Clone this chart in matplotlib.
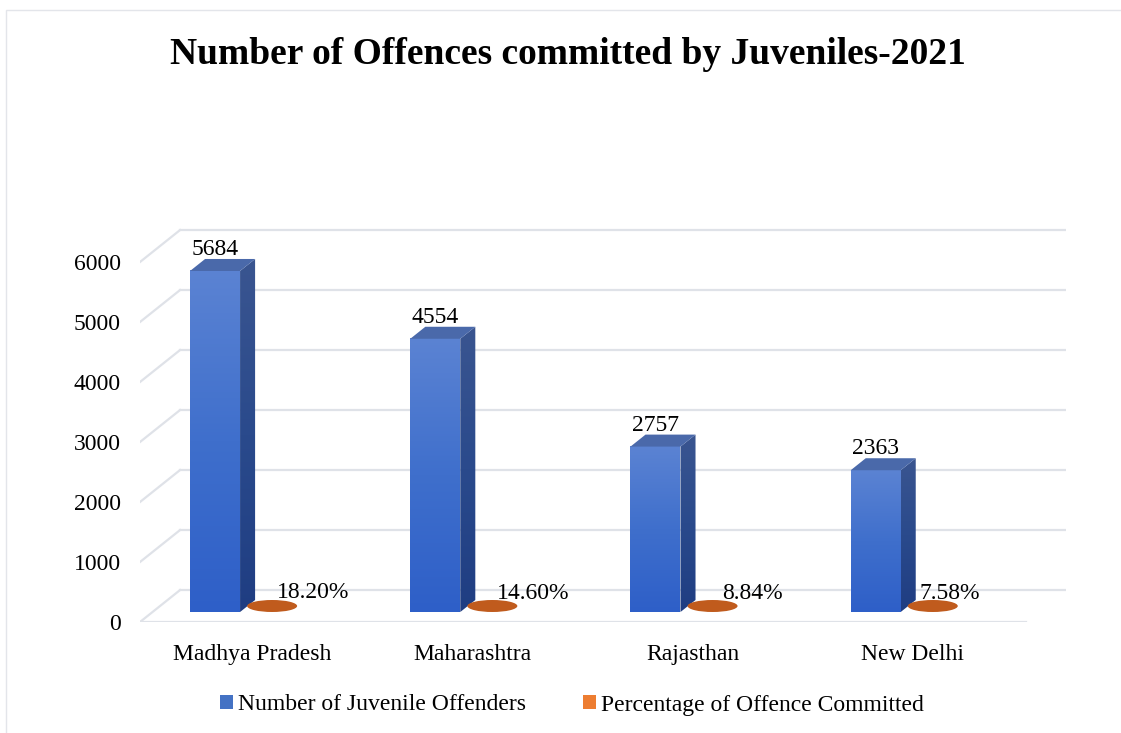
import numpy as np
import matplotlib
matplotlib.use("Agg")
import matplotlib.pyplot as plt
from matplotlib.patches import Polygon, Ellipse, Patch, Rectangle
from matplotlib.colors import LinearSegmentedColormap

plt.rcParams['font.family'] = ['Liberation Serif', 'DejaVu Serif']

states = ['Madhya Pradesh', 'Maharashtra', 'Rajasthan', 'New Delhi']
offenders = [5684, 4554, 2757, 2363]
offence_pct = [18.20, 14.60, 8.84, 7.58]
y_ticks = [0, 1000, 2000, 3000, 4000, 5000, 6000]

# fake 3d: depth offset of the whole box, in data units
DX = 0.182
DY = 533
T_FRONT, T_BACK = 0.3125, 0.6875
BAR_W = 0.227
BAR_SHIFT = -0.225
X_LEFT, X_RIGHT = -0.509, 3.514

fig = plt.figure(figsize=(11.21, 7.33), dpi=100)
ax = fig.add_axes([140 / 1121, 111 / 733, 926 / 1121, 396 / 733])

# outer chart border
fig.patches.append(Rectangle((6 / 1121, -0.01), 1.0, (733 - 10) / 733 + 0.01,
                             transform=fig.transFigure, fill=False,
                             edgecolor='#e3e5ea', lw=1.0))

grid_col = '#dfe2e8'
for v in y_ticks:
    ax.plot([X_LEFT + DX, X_RIGHT + DX], [v + DY, v + DY], color=grid_col, lw=1.6, zorder=1)
    ax.plot([X_LEFT, X_LEFT + DX], [v, v + DY], color=grid_col, lw=1.6, zorder=1)
ax.plot([X_LEFT, X_RIGHT], [0, 0], color=grid_col, lw=1.6, zorder=1)

front_cmap = LinearSegmentedColormap.from_list('front', ['#2e5fc8', '#3f6fcc', '#5b83d3'])
side_cmap = LinearSegmentedColormap.from_list('side', ['#1f3d82', '#2a4a8c', '#3a5590'])
grad = np.linspace(0, 1, 256).reshape(-1, 1)

ddx = (T_BACK - T_FRONT) * DX
ddy = (T_BACK - T_FRONT) * DY
for i, (n, pct) in enumerate(zip(offenders, offence_pct)):
    xl = i + BAR_SHIFT - BAR_W / 2 + T_FRONT * DX
    xr = xl + BAR_W
    y0 = T_FRONT * DY
    top = y0 + n

    # front face with vertical gradient
    ax.imshow(grad, extent=(xl, xr, y0, top), origin='lower', cmap=front_cmap,
              aspect='auto', zorder=3, interpolation='bilinear')

    # right side face
    side = Polygon([(xr, y0), (xr + ddx, y0 + ddy), (xr + ddx, top + ddy), (xr, top)],
                   closed=True, facecolor='none', edgecolor='none')
    ax.add_patch(side)
    im = ax.imshow(grad, extent=(xr, xr + ddx, y0, top + ddy), origin='lower',
                   cmap=side_cmap, aspect='auto', zorder=3, interpolation='bilinear')
    im.set_clip_path(side)

    # top face
    ax.add_patch(Polygon([(xl, top), (xr, top), (xr + ddx, top + ddy), (xl + ddx, top + ddy)],
                         closed=True, facecolor='#4a69aa', edgecolor='none', zorder=4))

    ax.text((xl + xr) / 2, top + ddy - 20, f'{n}', ha='center', va='bottom',
            fontsize=17, zorder=6)

    # percentage series: nearly flat cylinder on the floor
    cx = i + 0.5 * DX
    cy = 0.5 * DY + pct / 100
    ax.add_patch(Ellipse((cx, cy), BAR_W, ddy, facecolor='#c05b1d', edgecolor='none', zorder=5))

pct_dx = [41, 41, 40, 17]
for i, pct in enumerate(offence_pct):
    ax.annotate(f'{pct:.2f}%', xy=(i + 0.5 * DX, 0.5 * DY + pct / 100),
                xytext=(pct_dx[i] * 0.72, 13 * 0.72), textcoords='offset points',
                ha='center', va='center', fontsize=17, zorder=6)

ax.set_xlim(X_LEFT, X_RIGHT + DX)
ax.set_ylim(0, 6600)
ax.set_yticks(y_ticks)
ax.set_yticklabels([str(v) for v in y_ticks], fontsize=17)
ax.set_xticks(range(len(states)))
ax.set_xticklabels(states, fontsize=17)
ax.tick_params(axis='y', length=0, pad=14)
ax.tick_params(axis='x', length=0, pad=15.5)
for s in ax.spines.values():
    s.set_visible(False)
ax.set_facecolor('none')

fig.text(568 / 1121, (733 - 54) / 733, 'Number of Offences committed by Juveniles-2021',
         ha='center', va='center', fontsize=27, fontweight='bold')

handles = [Patch(facecolor='#4472c4', label='Number of Juvenile Offenders'),
           Patch(facecolor='#ed7d31', label='Percentage of Offence Committed')]
fig.legend(handles=handles, loc='center', bbox_to_anchor=(572 / 1121, (733 - 705) / 733),
           ncol=2, frameon=False, fontsize=17, handlelength=0.55, handleheight=0.55,
           handletextpad=0.2, columnspacing=2.45)

fig.savefig('out.png', dpi=100, facecolor='white')
